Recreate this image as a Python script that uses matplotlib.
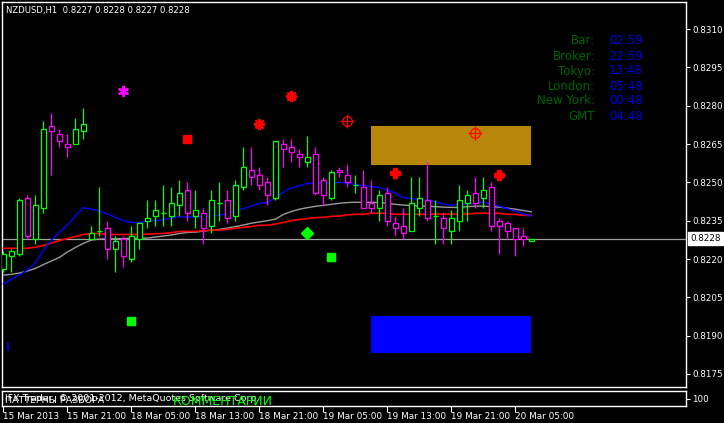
import matplotlib
matplotlib.use("Agg")
import matplotlib.pyplot as plt
from matplotlib.patches import Rectangle
import matplotlib.transforms as mtransforms

# ---------------- data ----------------
symbol_title = "NZDUSD,H1  0.8227 0.8228 0.8227 0.8228"

opens = [0.8216, 0.8221, 0.8222, 0.8244, 0.8228, 0.8240, 0.8272, 0.8269, 0.8265, 0.8265,
         0.8270, 0.8228, 0.8231, 0.8232, 0.8224, 0.8228, 0.8220, 0.8228, 0.8235, 0.8237,
         0.8238, 0.8237, 0.8241, 0.8247, 0.8237, 0.8238, 0.8233, 0.8242, 0.8243, 0.8237,
         0.8248, 0.8255, 0.8253, 0.8250, 0.8244, 0.8265, 0.8264, 0.8261, 0.8258, 0.8261,
         0.8251, 0.8244, 0.8255, 0.8253, 0.8249, 0.8248, 0.8242, 0.8240, 0.8246, 0.8234,
         0.8233, 0.8231, 0.8240, 0.8243, 0.8237, 0.8236, 0.8231, 0.8235, 0.8242, 0.8246,
         0.8244, 0.8248, 0.8235, 0.8234, 0.8232, 0.8229, 0.8227]
highs = [0.8223, 0.8224, 0.8244, 0.8245, 0.8245, 0.8274, 0.8277, 0.8271, 0.8269, 0.8275,
         0.8279, 0.8233, 0.8248, 0.8235, 0.8229, 0.8229, 0.8233, 0.8234, 0.8243, 0.8243,
         0.8249, 0.8248, 0.8251, 0.8250, 0.8247, 0.8240, 0.8247, 0.8250, 0.8247, 0.8251,
         0.8264, 0.8264, 0.8256, 0.8252, 0.8266, 0.8267, 0.8267, 0.8263, 0.8268, 0.8264,
         0.8252, 0.8255, 0.8256, 0.8257, 0.8253, 0.8255, 0.8251, 0.8247, 0.8248, 0.8237,
         0.8240, 0.8252, 0.8252, 0.8258, 0.8243, 0.8238, 0.8239, 0.8249, 0.8247, 0.8252,
         0.8252, 0.8250, 0.8236, 0.8235, 0.8232, 0.8232, 0.8228]
lows = [0.8215, 0.8215, 0.8221, 0.8228, 0.8226, 0.8238, 0.8253, 0.8264, 0.8260, 0.8265,
        0.8267, 0.8228, 0.8229, 0.8220, 0.8215, 0.8217, 0.8219, 0.8224, 0.8232, 0.8233,
        0.8233, 0.8233, 0.8237, 0.8235, 0.8232, 0.8226, 0.8230, 0.8235, 0.8234, 0.8235,
        0.8247, 0.8249, 0.8247, 0.8241, 0.8243, 0.8256, 0.8258, 0.8256, 0.8256, 0.8245,
        0.8241, 0.8243, 0.8252, 0.8248, 0.8246, 0.8240, 0.8238, 0.8235, 0.8233, 0.8229,
        0.8228, 0.8231, 0.8237, 0.8235, 0.8226, 0.8226, 0.8226, 0.8231, 0.8235, 0.8240,
        0.8240, 0.8231, 0.8222, 0.8228, 0.8221, 0.8225, 0.8227]
closes = [0.8222, 0.8223, 0.8243, 0.8229, 0.8241, 0.8271, 0.8270, 0.8266, 0.8264, 0.8271,
          0.8273, 0.8230, 0.8231, 0.8224, 0.8227, 0.8221, 0.8229, 0.8234, 0.8236, 0.8239,
          0.8238, 0.8242, 0.8246, 0.8238, 0.8239, 0.8232, 0.8243, 0.8242, 0.8236, 0.8249,
          0.8256, 0.8252, 0.8249, 0.8245, 0.8266, 0.8263, 0.8262, 0.8260, 0.8260, 0.8246,
          0.8245, 0.8254, 0.8254, 0.8250, 0.8249, 0.8240, 0.8240, 0.8245, 0.8235, 0.8232,
          0.8230, 0.8242, 0.8244, 0.8236, 0.8237, 0.8232, 0.8236, 0.8243, 0.8245, 0.8242,
          0.8247, 0.8233, 0.8233, 0.8231, 0.8228, 0.8228, 0.8228]

ma_blue = [0.82102, 0.82121, 0.82137, 0.82157, 0.82184, 0.82235, 0.82274, 0.82305, 0.82333, 0.82368,
           0.82401, 0.82395, 0.82388, 0.82376, 0.82364, 0.82350, 0.82343, 0.82343, 0.82347, 0.82350,
           0.82354, 0.82360, 0.82365, 0.82365, 0.82365, 0.82366, 0.82368, 0.82372, 0.82376, 0.82388,
           0.82397, 0.82407, 0.82418, 0.82420, 0.82440, 0.82462, 0.82478, 0.82487, 0.82496, 0.82496,
           0.82497, 0.82498, 0.82500, 0.82497, 0.82492, 0.82487, 0.82484, 0.82480, 0.82470, 0.82458,
           0.82440, 0.82437, 0.82433, 0.82430, 0.82423, 0.82415, 0.82411, 0.82413, 0.82415, 0.82419,
           0.82422, 0.82415, 0.82407, 0.82397, 0.82388, 0.82376, 0.82368]
ma_red = [0.82242, 0.82242, 0.82242, 0.82242, 0.82246, 0.82253, 0.82262, 0.82272, 0.82280, 0.82288,
          0.82296, 0.82300, 0.82300, 0.82296, 0.82296, 0.82296, 0.82296, 0.82296, 0.82297, 0.82299,
          0.82300, 0.82303, 0.82308, 0.82308, 0.82308, 0.82311, 0.82313, 0.82313, 0.82316, 0.82320,
          0.82324, 0.82327, 0.82332, 0.82332, 0.82337, 0.82343, 0.82350, 0.82355, 0.82358, 0.82362,
          0.82363, 0.82367, 0.82368, 0.82373, 0.82375, 0.82375, 0.82379, 0.82379, 0.82379, 0.82375,
          0.82375, 0.82375, 0.82375, 0.82375, 0.82376, 0.82376, 0.82376, 0.82376, 0.82376, 0.82379,
          0.82379, 0.82379, 0.82379, 0.82375, 0.82375, 0.82371, 0.82371]
ma_grey = [0.82137, 0.82140, 0.82145, 0.82153, 0.82163, 0.82178, 0.82192, 0.82206, 0.82227, 0.82245,
           0.82261, 0.82274, 0.82278, 0.82279, 0.82279, 0.82280, 0.82281, 0.82281, 0.82282, 0.82286,
           0.82290, 0.82294, 0.82300, 0.82304, 0.82305, 0.82309, 0.82313, 0.82316, 0.82321, 0.82327,
           0.82333, 0.82340, 0.82345, 0.82350, 0.82356, 0.82374, 0.82386, 0.82395, 0.82401, 0.82406,
           0.82410, 0.82414, 0.82418, 0.82421, 0.82422, 0.82422, 0.82422, 0.82421, 0.82418, 0.82414,
           0.82411, 0.82409, 0.82407, 0.82407, 0.82405, 0.82403, 0.82402, 0.82402, 0.82405, 0.82407,
           0.82407, 0.82405, 0.82403, 0.82399, 0.82395, 0.82390, 0.82385]

bid_price = 0.8228
price_ticks = [0.8175, 0.8190, 0.8205, 0.8220, 0.8235, 0.8250, 0.8265, 0.8280, 0.8295, 0.8310]
time_tick_bars = [0, 8, 16, 24, 32, 40, 48, 56, 64]
time_tick_labels = ["15 Mar 2013", "15 Mar 21:00", "18 Mar 05:00", "18 Mar 13:00", "18 Mar 21:00",
                    "19 Mar 05:00", "19 Mar 13:00", "19 Mar 21:00", "20 Mar 05:00"]

# signal objects
mag_star_x, mag_star_y = [15], [0.82857]
red_square_x, red_square_y = [22.9], [0.82669]
red_star_x, red_star_y = [32, 36], [0.82728, 0.82838]
red_target_x, red_target_y = [43, 59], [0.82740, 0.82693]
red_cross_x, red_cross_y = [48.9, 61.9], [0.82536, 0.82529]
green_diamond_x, green_diamond_y = [38], [0.82301]
green_square_x, green_square_y = [16, 41], [0.81957, 0.82208]
blue_tick_x, blue_tick_lo, blue_tick_hi = [0.6], [0.81840], [0.81875]

zone_start, zone_end = 46, 66
gold_zone = (0.82568, 0.82720)
blue_zone = (0.81832, 0.81977)

info_labels = ["Bar:", "Broker:", "Tokyo:", "London:", "New York:", "GMT"]
info_values = ["02:59", "22:59", "13:48", "05:48", "00:48", "04:48"]

copyright_text = "IFX Trader, © 2001-2012, MetaQuotes Software Corp."
overlay_text = "ПАТТЕРНЫ РАЗБОРА"
comment_text = "КОММЕНТАРИИ"
sub_label = "100"

# ---------------- figure ----------------
W, H = 724, 423
fig = plt.figure(figsize=(W / 100, H / 100), dpi=100, facecolor="black")

def px_axes(x0, y0, x1, y1):
    return fig.add_axes([x0 / W, 1 - y1 / H, (x1 - x0) / W, (y1 - y0) / H])

ax = px_axes(2, 2, 686, 387)
ax.set_facecolor("black")
n = len(opens)
x_left = (2 - 3.3) / 8
x_right = (686 - 3.3) / 8
ax.set_xlim(x_left, x_right)
ax.set_ylim(0.81699, 0.83206)
for s in ax.spines.values():
    s.set_color("white")
    s.set_linewidth(1.0)

# zones
ax.add_patch(Rectangle((zone_start, gold_zone[0]), zone_end - zone_start, gold_zone[1] - gold_zone[0],
                       facecolor="#B8860B", edgecolor="none", zorder=1))
ax.add_patch(Rectangle((zone_start, blue_zone[0]), zone_end - zone_start, blue_zone[1] - blue_zone[0],
                       facecolor="#0000FF", edgecolor="none", zorder=1))

# bid line
ax.axhline(bid_price, color="#A0A0A0", lw=0.9, zorder=2)

# moving averages
idx = list(range(n))
ax.plot(idx, ma_grey, color="#9A9A9A", lw=1.0, zorder=3)
ax.plot(idx, ma_red, color="#FF0000", lw=1.2, zorder=3)
ax.plot(idx, ma_blue, color="#0000FF", lw=1.0, zorder=3)

# candles
bw = 0.6
for i in range(n):
    o, h, l, c = opens[i], highs[i], lows[i], closes[i]
    col = "#00FF00" if c >= o else "#FF00FF"
    ax.vlines(i, l, h, color=col, lw=0.9, zorder=4)
    if abs(c - o) < 1e-9:
        ax.hlines(o, i - bw / 2, i + bw / 2, color=col, lw=0.9, zorder=5)
    else:
        ax.add_patch(Rectangle((i - bw / 2, min(o, c)), bw, abs(c - o), facecolor="black",
                               edgecolor=col, lw=0.9, zorder=5))

# signals
ax.plot(mag_star_x, mag_star_y, ls="none", marker=(6, 2, 0), ms=8, mec="#FF00FF", mew=1.6, zorder=6)
ax.plot(red_square_x, red_square_y, ls="none", marker="s", ms=6.2, mfc="#FF0000", mec="#FF0000", zorder=6)
ax.plot(red_star_x, red_star_y, ls="none", marker=(8, 2, 0), ms=8, mec="#FF0000", mew=1.6, zorder=6)
ax.plot(red_target_x, red_target_y, ls="none", marker="o", ms=7, mfc="none", mec="#FF0000", mew=0.9, zorder=6)
ax.plot(red_target_x, red_target_y, ls="none", marker="+", ms=10, mec="#FF0000", mew=0.9, zorder=6)
ax.plot(red_cross_x, red_cross_y, ls="none", marker="P", ms=7, mfc="#FF0000", mec="#FF0000", zorder=6)
ax.plot(green_diamond_x, green_diamond_y, ls="none", marker="D", ms=6, mfc="#00FF00", mec="#00FF00", zorder=6)
ax.plot(green_square_x, green_square_y, ls="none", marker="s", ms=6.2, mfc="#00FF00", mec="#00FF00", zorder=6)
ax.vlines(blue_tick_x, blue_tick_lo, blue_tick_hi, color="#0000FF", lw=1.2, zorder=6)

# price axis
ax.yaxis.tick_right()
ax.set_yticks(price_ticks)
ax.set_yticklabels([f"{p:.4f}" for p in price_ticks])
ax.tick_params(axis="y", colors="white", labelcolor="white", length=3, width=0.8, pad=1.5, labelsize=6.3)
ax.set_xticks([])

# bid label box
trans = mtransforms.blended_transform_factory(ax.transAxes, ax.transData)
ax.text(1.0 + 4 / 684, bid_price, f"{bid_price:.4f}", transform=trans, ha="left", va="center",
        fontsize=6.3, color="black", clip_on=False,
        bbox=dict(boxstyle="square,pad=0.25", facecolor="white", edgecolor="white"), zorder=10)

# title
ax.text(4 / 684, 1 - 8 / 385, symbol_title, transform=ax.transAxes, ha="left", va="center",
        fontsize=6.1, color="white")

# info panel
for k, (lab, val) in enumerate(zip(info_labels, info_values)):
    yy = 41 + k * 15
    fig.text(595 / W, 1 - yy / H, lab, ha="right", va="center", fontsize=8.5, color="#006400")
    fig.text(609 / W, 1 - yy / H, val, ha="left", va="center", fontsize=8.5, color="#0000E0")

# sub window
ax2 = px_axes(2, 391, 686, 406)
ax2.set_facecolor("black")
ax2.set_xlim(x_left, x_right)
ax2.set_ylim(0, 1)
for s in ax2.spines.values():
    s.set_color("white")
    s.set_linewidth(1.0)
ax2.yaxis.tick_right()
ax2.set_yticks([0.5])
ax2.set_yticklabels([sub_label])
ax2.tick_params(axis="y", colors="white", labelcolor="white", length=3, width=0.8, pad=1.5, labelsize=6.3)
ax2.set_xticks(time_tick_bars)
ax2.set_xticklabels(time_tick_labels)
ax2.tick_params(axis="x", colors="white", labelcolor="white", length=4, width=0.8, pad=0.5, labelsize=6.4)
for lbl in ax2.get_xticklabels():
    lbl.set_horizontalalignment("left")
ax2.text(3 / 684, 0.5, copyright_text, transform=ax2.transAxes, ha="left", va="center",
         fontsize=6.8, color="white")
ax2.text(3 / 684, 0.35, overlay_text, transform=ax2.transAxes, ha="left", va="center",
         fontsize=6.8, color="white")
ax2.text(171 / 684, 0.3, comment_text, transform=ax2.transAxes, ha="left", va="center",
         fontsize=9, color="#00FF00", clip_on=False)

fig.savefig("out.png", dpi=100, facecolor="black")
